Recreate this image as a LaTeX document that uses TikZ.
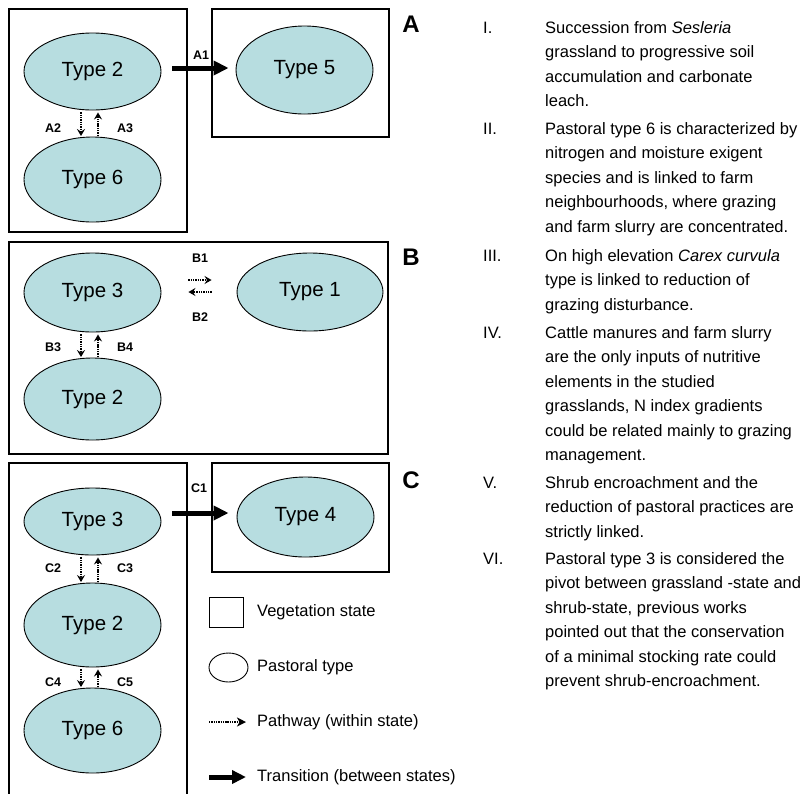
\documentclass[tikz,border=0pt]{standalone}
\usepackage{fontspec}
\setmainfont{Liberation Sans}
\usetikzlibrary{shapes.geometric,arrows.meta}
\definecolor{typefill}{RGB}{183,221,224}
\begin{document}
\begin{tikzpicture}[x=1pt,y=-1pt,
  statebox/.style={draw, line width=1.2pt, inner sep=0pt},
  ptype/.style={ellipse, draw, line width=0.9pt, fill=typefill, inner sep=0pt, font=\fontsize{20.5}{24}\selectfont},
  lab/.style={font=\fontsize{12.5}{14}\bfseries\selectfont, inner sep=0pt},
  pathway/.style={line width=2pt, dash pattern=on 1.4pt off 0.9pt, -{Stealth[length=7pt,width=8pt,inset=2.5pt]}},
  transition/.style={line width=5pt, -{Triangle[length=15pt,width=14pt]}},
  panel/.style={font=\fontsize{24}{24}\bfseries\selectfont, inner sep=0pt},
  body/.style={font=\fontsize{16.5}{24.5}\selectfont, inner sep=0pt, anchor=base west, align=left},
  legtext/.style={font=\fontsize{16.5}{20}\selectfont, inner sep=0pt, anchor=west}
]
\useasboundingbox (0,0) rectangle (802,793);
% state boxes
\node[statebox, minimum width=178pt, minimum height=223pt] (boxA1) at (98,120.5) {};
\node[statebox, minimum width=177pt, minimum height=128pt] (boxA2) at (300.5,73) {};
\node[statebox, minimum width=379pt, minimum height=212pt] (boxB) at (198.5,348) {};
\node[statebox, minimum width=178pt, minimum height=346pt] (boxC1) at (98,636) {};
\node[statebox, minimum width=177pt, minimum height=109pt] (boxC2) at (300.5,517.5) {};
% pastoral types
\node[ptype, minimum width=137pt, minimum height=77pt] (t2a) at (92.5,71.5) {Type 2};
\node[ptype, minimum width=137pt, minimum height=85pt] (t6a) at (92.5,179.5) {Type 6};
\node[ptype, minimum width=137pt, minimum height=88pt] (t5a) at (304.5,70) {Type 5};
\node[ptype, minimum width=137pt, minimum height=79pt] (t3b) at (92.5,292.5) {Type 3};
\node[ptype, minimum width=146pt, minimum height=78pt] (t1b) at (310,292) {Type 1};
\node[ptype, minimum width=137pt, minimum height=82pt] (t2b) at (92.5,399) {Type 2};
\node[ptype, minimum width=137pt, minimum height=67pt] (t3c) at (92.5,521.5) {Type 3};
\node[ptype, minimum width=137pt, minimum height=80pt] (t4c) at (305.5,517) {Type 4};
\node[ptype, minimum width=137pt, minimum height=84pt] (t2c) at (92.5,625) {Type 2};
\node[ptype, minimum width=137pt, minimum height=85pt] (t6c) at (92.5,730.5) {Type 6};
% transitions
\draw[transition, shorten <=11pt, shorten >=7pt] ([yshift=3.5pt]t2a.east) -- ([yshift=3.5pt]t2a.east -| t5a.west);
\draw[transition, shorten <=11pt, shorten >=8pt] ([yshift=8.5pt]t3c.east) -- ([yshift=8.5pt]t3c.east -| t4c.west);
% pathways A
\draw[pathway, shorten <=2pt, shorten >=0.5pt] ([xshift=-11.5pt]t2a.south) -- ([xshift=-11.5pt]t2a.south |- t6a.north);
\draw[pathway, shorten <=0.5pt, shorten >=2pt] ([xshift=5.5pt]t2a.south |- t6a.north) -- ([xshift=5.5pt]t2a.south);
% pathways B
\draw[pathway, shorten <=27pt, shorten >=25pt] ([yshift=12.5pt]t3b.east) -- ([yshift=12.5pt]t3b.east -| t1b.west);
\draw[pathway, shorten <=25pt, shorten >=27pt] ([yshift=0.5pt]t3b.east -| t1b.west) -- ([yshift=0.5pt]t3b.east);
\draw[pathway, shorten <=2pt, shorten >=0.5pt] ([xshift=-11.5pt]t3b.south) -- ([xshift=-11.5pt]t3b.south |- t2b.north);
\draw[pathway, shorten <=0.5pt, shorten >=2pt] ([xshift=5.5pt]t3b.south |- t2b.north) -- ([xshift=5.5pt]t3b.south);
% pathways C
\draw[pathway, shorten <=2pt, shorten >=0.5pt] ([xshift=-11.5pt]t3c.south) -- ([xshift=-11.5pt]t3c.south |- t2c.north);
\draw[pathway, shorten <=0.5pt, shorten >=2pt] ([xshift=5.5pt]t3c.south |- t2c.north) -- ([xshift=5.5pt]t3c.south);
\draw[pathway, shorten <=2pt, shorten >=0.5pt] ([xshift=-11.5pt]t2c.south) -- ([xshift=-11.5pt]t2c.south |- t6c.north);
\draw[pathway, shorten <=0.5pt, shorten >=2pt] ([xshift=5.5pt]t2c.south |- t6c.north) -- ([xshift=5.5pt]t2c.south);
% labels
\node[lab] (lA1) at (201,55) {A1};
\node[lab] (lA2) at (53,128) {A2};
\node[lab] (lA3) at (125,128) {A3};
\node[lab] (lB1) at (200,258) {B1};
\node[lab] (lB2) at (200,317) {B2};
\node[lab] (lB3) at (53,347) {B3};
\node[lab] (lB4) at (125,347) {B4};
\node[lab] (lC1) at (199,488) {C1};
\node[lab] (lC2) at (53,568) {C2};
\node[lab] (lC3) at (125,568) {C3};
\node[lab] (lC4) at (53,682) {C4};
\node[lab] (lC5) at (125,682) {C5};
% panel letters
\node[panel] (pA) at (411,24) {A};
\node[panel] (pB) at (411,257) {B};
\node[panel] (pC) at (411,480) {C};
% legend
\node[statebox, line width=1pt, minimum width=34pt, minimum height=30pt] (legbox) at (226,612) {};
\node[ellipse, draw, line width=0.9pt, minimum width=39pt, minimum height=29pt, inner sep=0pt] (legell) at (228.5,667.5) {};
\coordinate (lp1) at (209,722);
\coordinate (lp2) at (246,722);
\coordinate (lt1) at (209,777);
\coordinate (lt2) at (246,777);
\draw[pathway, -{Stealth[length=9pt,width=9pt,inset=2.5pt]}] (lp1) -- (lp2);
\draw[transition, -{Triangle[length=14pt,width=13pt]}] (lt1) -- (lt2);
\node[legtext] (lg1) at (257,612) {Vegetation state};
\node[legtext] (lg2) at (257,667) {Pastoral type};
\node[legtext] (lg3) at (257,722) {Pathway (within state)};
\node[legtext] (lg4) at (257,777) {Transition (between states)};
% notes (anchored at the baseline of the last line)
\node[body] (n1) at (483,33) {I.};
\node[body] (x1) at (545,106.5) {Succession from \textit{Sesleria}\\grassland to progressive soil\\accumulation and carbonate\\leach.};
\node[body] (n2) at (483,134) {II.};
\node[body] (x2) at (545,232) {Pastoral type 6 is characterized by\\nitrogen and moisture exigent\\species and is linked to farm\\neighbourhoods, where grazing\\and farm slurry are concentrated.};
\node[body] (n3) at (483,261) {III.};
\node[body] (x3) at (545,310) {On high elevation \textit{Carex curvula}\\type is linked to reduction of\\grazing disturbance.};
\node[body] (n4) at (483,338) {IV.};
\node[body] (x4) at (545,460.5) {Cattle manures and farm slurry\\are the only inputs of nutritive\\elements in the studied\\grasslands, N index gradients\\could be related mainly to grazing\\management.};
\node[body] (n5) at (483,488) {V.};
\node[body] (x5) at (545,537) {Shrub encroachment and the\\reduction of pastoral practices are\\strictly linked.};
\node[body] (n6) at (483,564) {VI.};
\node[body] (x6) at (545,686.5) {Pastoral type 3 is considered the\\pivot between grassland -state and\\shrub-state, previous works\\pointed out that the conservation\\of a minimal stocking rate could\\prevent shrub-encroachment.};
\end{tikzpicture}
\end{document}
